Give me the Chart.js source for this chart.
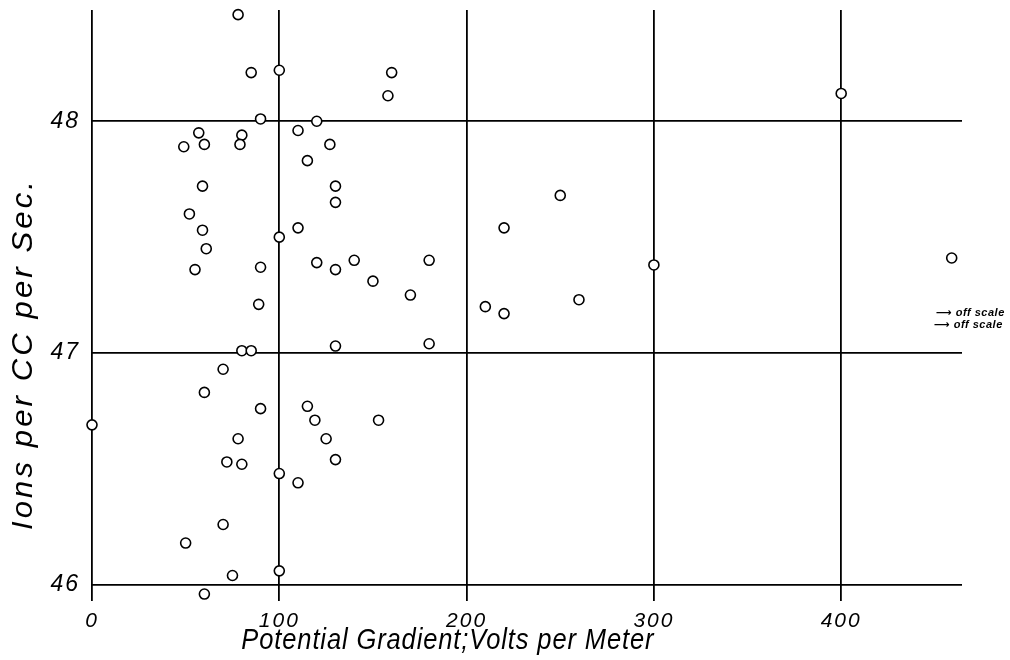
<!DOCTYPE html>
<html>
<head>
<meta charset="utf-8">
<script src="https://cdn.jsdelivr.net/npm/chart.js@4/dist/chart.umd.min.js"></script>
<style>
  html, body { margin: 0; padding: 0; background: #fff; }
  #wrap { width: 1010px; height: 660px; position: relative; }
</style>
</head>
<body>
<div id="wrap"><canvas id="chart"></canvas></div>
<script>
// potential gradient (volts per meter) for each observation
var gradient = [
  78, 85, 100, 90, 120, 57, 49, 60, 80, 79,
  110, 127, 115, 59, 130, 130, 52, 59, 110, 100,
  61, 55, 90, 120, 130, 89, 160, 158, 140, 150,
  180, 170, 250, 220, 260, 210, 220, 400, 300, 459,
  130, 80, 85, 70, 60, 90, 115, 119, 125, 130,
  0, 78, 72, 80, 100, 110, 70, 50, 100, 75,
  60, 180, 153
];
// ions per cc per sec
var ions = [
  48.46, 48.21, 48.22, 48.01, 48.00, 47.95, 47.89, 47.90, 47.94, 47.90,
  47.96, 47.90, 47.83, 47.72, 47.72, 47.65, 47.60, 47.53, 47.54, 47.50,
  47.45, 47.36, 47.37, 47.39, 47.36, 47.21, 48.21, 48.11, 47.40, 47.31,
  47.40, 47.25, 47.68, 47.54, 47.23, 47.20, 47.17, 48.12, 47.38, 47.41,
  47.03, 47.01, 47.01, 46.93, 46.83, 46.76, 46.77, 46.71, 46.63, 46.54,
  46.69, 46.63, 46.53, 46.52, 46.48, 46.44, 46.26, 46.18, 46.06, 46.04,
  45.96, 47.04, 46.71
];

var xTicks = [0, 100, 200, 300, 400];
var yTicks = [46, 47, 48];
var xTitle = "Potential Gradient;Volts per Meter";
var yTitle = "Ions per CC per Sec.";
var offScale = ["\u27F6 off scale", "\u27F6 off scale"];

var points = gradient.map(function (g, i) { return { x: g, y: ions[i] }; });

var labelFont = "'Liberation Sans', 'DejaVu Sans', sans-serif";

// draw a line of text squeezed/stretched to a given length, centred on (0,0)
function fitText(ctx, text, len) {
  var w = ctx.measureText(text).width;
  ctx.scale(len / w, 1);
  ctx.fillText(text, 0, 0);
}

var lettering = {
  id: "lettering",
  beforeDraw: function (chart) {
    chart.ctx.letterSpacing = "2px";
  },
  afterDraw: function (chart) {
    var ctx = chart.ctx;
    var area = chart.chartArea;
    var xs = chart.scales.x;
    ctx.save();
    ctx.fillStyle = "#000";
    ctx.textBaseline = "middle";
    ctx.textAlign = "center";
    ctx.letterSpacing = "1px";
    ctx.font = "italic 29px " + labelFont;
    ctx.translate(xs.getPixelForValue(190), area.bottom + 40);
    fitText(ctx, xTitle, 413);
    ctx.restore();

    ctx.save();
    ctx.fillStyle = "#000";
    ctx.textBaseline = "middle";
    ctx.textAlign = "center";
    ctx.letterSpacing = "3px";
    ctx.font = "italic 30px " + labelFont;
    ctx.translate(area.left - 68, 354);
    ctx.rotate(-Math.PI / 2);
    fitText(ctx, yTitle, 352);
    ctx.restore();

    ctx.save();
    ctx.fillStyle = "#000";
    ctx.textAlign = "left";
    ctx.textBaseline = "middle";
    ctx.letterSpacing = "0.5px";
    ctx.font = "italic bold 11px " + labelFont;
    ctx.fillText(offScale[0], area.right - 26, 313);
    ctx.fillText(offScale[1], area.right - 28, 325);
    ctx.restore();
  }
};

new Chart(document.getElementById("chart"), {
  type: "scatter",
  data: {
    datasets: [{
      data: points,
      clip: false,
      pointRadius: 5,
      pointBorderWidth: 1.6,
      pointBorderColor: "#000",
      pointBackgroundColor: "#fff"
    }]
  },
  options: {
    responsive: true,
    maintainAspectRatio: false,
    animation: false,
    layout: { padding: { left: 0, top: 10, right: 48, bottom: 0 } },
    plugins: {
      legend: { display: false },
      tooltip: { enabled: false }
    },
    scales: {
      x: {
        type: "linear",
        min: 0,
        max: 464.5,
        afterBuildTicks: function (s) { s.ticks = xTicks.map(function (v) { return { value: v }; }); },
        afterFit: function (s) {
          s.height = 59;
          s.paddingLeft = 0; s.paddingRight = 0;
        },
        grid: { color: "#000", lineWidth: 1.8, drawTicks: false },
        border: { display: false },
        ticks: {
          color: "#000",
          padding: 8,
          maxRotation: 0,
          font: { family: labelFont, size: 21, style: "italic" }
        }
      },
      y: {
        type: "linear",
        min: 45.93,
        max: 48.48,
        afterBuildTicks: function (s) { s.ticks = yTicks.map(function (v) { return { value: v }; }); },
        afterFit: function (s) {
          s.width = 92;
          s.paddingTop = 0; s.paddingBottom = 0;
        },
        grid: { color: "#000", lineWidth: 1.8, drawTicks: false },
        border: { display: false },
        ticks: {
          color: "#000",
          padding: 12,
          font: { family: labelFont, size: 23, style: "italic" }
        }
      }
    }
  },
  plugins: [lettering]
});
</script>
</body>
</html>
